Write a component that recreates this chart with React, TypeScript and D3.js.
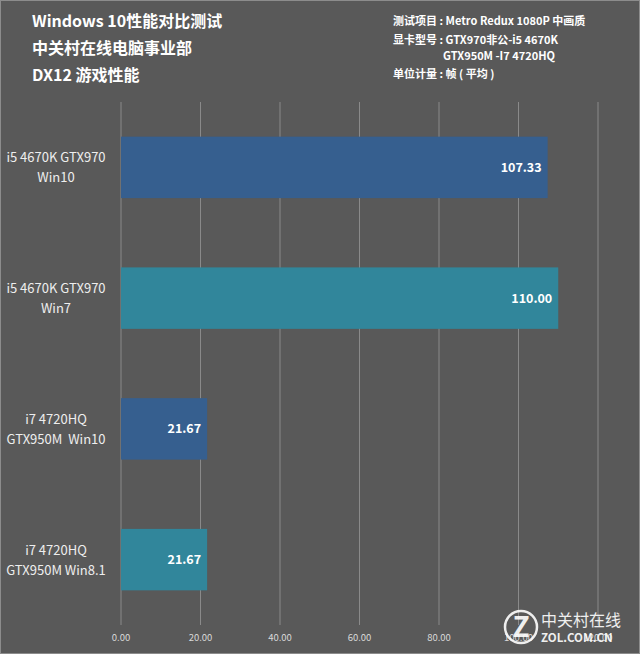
import React, { useEffect, useRef } from 'react';
import * as d3 from 'd3';

const categories = [
  ['i5 4670K GTX970', 'Win10'],
  ['i5 4670K GTX970', 'Win7'],
  ['i7 4720HQ', 'GTX950M  Win10'],
  ['i7 4720HQ', 'GTX950M Win8.1'],
];
const values = [107.33, 110.0, 21.67, 21.67];
const barColors = ['#365f8f', '#31869b', '#365f8f', '#31869b'];
const ticks = [0, 20, 40, 60, 80, 100, 120];
const titleLines = ['Windows 10性能对比测试', '中关村在线电脑事业部', 'DX12 游戏性能'];
const infoLines = [
  '测试项目 : Metro Redux 1080P 中画质',
  '显卡型号 : GTX970非公-i5 4670K',
  'GTX950M -I7 4720HQ',
  '单位计量 : 帧 ( 平均 )',
];

const W = 640;
const H = 654;
const FONT = '"Noto Sans CJK SC", "Noto Sans", sans-serif';

const App = () => {
  const svgRef = useRef<SVGSVGElement>(null);

  useEffect(() => {
    const svg = d3.select(svgRef.current);
    svg.selectAll('*').remove();

    svg.append('rect')
      .attr('x', 0.5).attr('y', 0.5)
      .attr('width', W - 1).attr('height', H - 1)
      .attr('fill', '#595959')
      .attr('stroke', '#8c8c8c');

    const x = d3.scaleLinear().domain([0, 120]).range([121, 598]);
    const y = d3.scaleBand<number>()
      .domain(d3.range(categories.length))
      .range([102, 625])
      .paddingInner(0.53)
      .paddingOuter(0.265);

    // grid lines
    svg.append('g')
      .selectAll('line')
      .data(ticks)
      .enter()
      .append('line')
      .attr('x1', d => x(d)).attr('x2', d => x(d))
      .attr('y1', 102).attr('y2', 625)
      .attr('stroke', '#8a8a8a')
      .attr('stroke-width', 1);

    // tick labels
    svg.append('g')
      .selectAll('text')
      .data(ticks)
      .enter()
      .append('text')
      .attr('x', d => x(d))
      .attr('y', 641)
      .attr('text-anchor', 'middle')
      .style('font-family', FONT)
      .style('font-size', '9.5px')
      .attr('fill', '#d9d9d9')
      .text(d => d.toFixed(2));

    // bars
    svg.append('g')
      .selectAll('rect')
      .data(values)
      .enter()
      .append('rect')
      .attr('x', x(0))
      .attr('y', (d, i) => y(i)!)
      .attr('width', d => x(d) - x(0))
      .attr('height', y.bandwidth())
      .attr('fill', (d, i) => barColors[i]);

    // value labels
    svg.append('g')
      .selectAll('text')
      .data(values)
      .enter()
      .append('text')
      .attr('x', d => x(d) - 6)
      .attr('y', (d, i) => y(i)! + y.bandwidth() / 2 + 4.5)
      .attr('text-anchor', 'end')
      .style('font-family', FONT)
      .style('font-size', '12.5px')
      .style('font-weight', 'bold')
      .attr('fill', '#ffffff')
      .text(d => d.toFixed(2));

    // category labels, two lines each
    const cat = svg.append('g')
      .selectAll('text')
      .data(categories)
      .enter()
      .append('text')
      .attr('text-anchor', 'middle')
      .style('font-family', FONT)
      .style('font-size', '13px')
      .style('white-space', 'pre')
      .attr('fill', '#eeeeee');
    cat.each(function (d, i) {
      const cy = y(i)! + y.bandwidth() / 2;
      d.forEach((line, j) => {
        d3.select(this).append('tspan')
          .attr('x', 56)
          .attr('y', cy - 5 + j * 20)
          .text(line);
      });
    });

    // title
    svg.append('g')
      .selectAll('text')
      .data(titleLines)
      .enter()
      .append('text')
      .attr('x', 32)
      .attr('y', (d, i) => 27 + i * 27)
      .style('font-family', FONT)
      .style('font-size', '16px')
      .style('font-weight', 'bold')
      .attr('fill', '#ffffff')
      .text(d => d);

    // info block top right
    svg.append('g')
      .selectAll('text')
      .data(infoLines)
      .enter()
      .append('text')
      .attr('x', (d, i) => (i === 2 ? 443 : 393))
      .attr('y', (d, i) => [25, 44, 60, 78][i])
      .style('font-family', FONT)
      .style('font-size', '11px')
      .style('font-weight', 'bold')
      .attr('fill', '#ffffff')
      .text(d => d);

    // ZOL watermark
    const wm = svg.append('g').attr('opacity', 0.9);
    wm.append('circle')
      .attr('cx', 521).attr('cy', 627).attr('r', 16)
      .attr('fill', 'none')
      .attr('stroke', '#ffffff')
      .attr('stroke-width', 2.5);
    wm.append('text')
      .attr('x', 521).attr('y', 637)
      .attr('text-anchor', 'middle')
      .style('font-family', FONT)
      .style('font-size', '28px')
      .style('font-weight', 'bold')
      .attr('fill', '#ffffff')
      .text('Z');
    wm.append('text')
      .attr('x', 541).attr('y', 626)
      .style('font-family', FONT)
      .style('font-size', '16px')
      .attr('fill', '#ffffff')
      .text('中关村在线');
    wm.append('text')
      .attr('x', 541).attr('y', 642)
      .style('font-family', FONT)
      .style('font-size', '11.5px')
      .style('font-weight', 'bold')
      .attr('fill', '#ffffff')
      .text('ZOL.COM.CN');
  }, []);

  return (
    <div style={{ position: 'absolute', left: 0, top: 0 }}>
      <svg ref={svgRef} width={W} height={H} style={{ display: 'block' }}></svg>
    </div>
  );
};

export default App;
